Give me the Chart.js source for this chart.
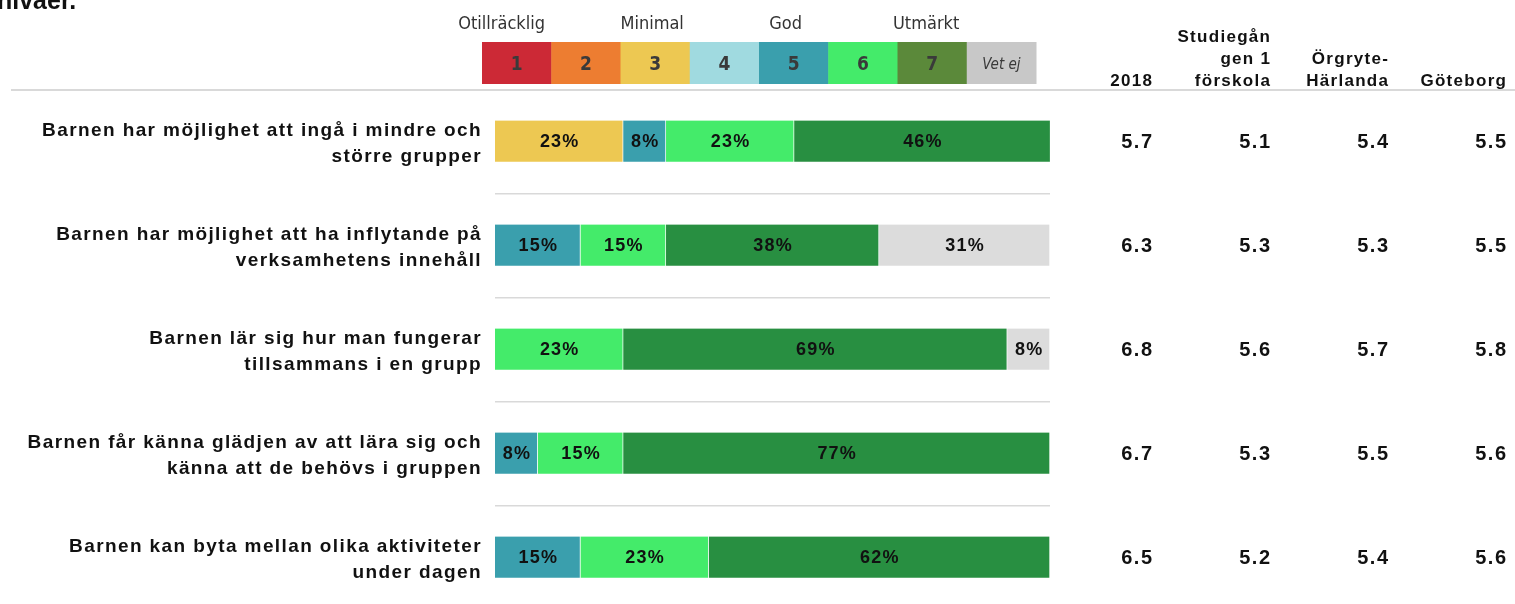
<!DOCTYPE html>
<html>
<head>
<meta charset="utf-8">
<script src="https://cdn.jsdelivr.net/npm/chart.js@4.4.1/dist/chart.umd.min.js"></script>
<style>
  body { margin: 0; background: #fff; }
  #wrap { width: 1515px; height: 604px; position: relative; }
</style>
</head>
<body>
<div id="wrap"><canvas id="chart"></canvas></div>
<script>
// frågor (två rader per etikett)
const categories = [
    ['Barnen har möjlighet att ingå i mindre och', 'större grupper'],
    ['Barnen har möjlighet att ha inflytande på', 'verksamhetens innehåll'],
    ['Barnen lär sig hur man fungerar', 'tillsammans i en grupp'],
    ['Barnen får känna glädjen av att lära sig och', 'känna att de behövs i gruppen'],
    ['Barnen kan byta mellan olika aktiviteter', 'under dagen']
];

const scaleLabels = ['1', '2', '3', '4', '5', '6', '7', 'Vet ej'];
const scaleWords = ['Otillräcklig', '', 'Minimal', '', 'God', '', 'Utmärkt', ''];

// andel svar i procent per betyg
const grade1 = [0, 0, 0, 0, 0];
const grade2 = [0, 0, 0, 0, 0];
const grade3 = [23.1, 0, 0, 0, 0];
const grade4 = [0, 0, 0, 0, 0];
const grade5 = [7.7, 15.4, 0, 7.7, 15.4];
const grade6 = [23.1, 15.4, 23.1, 15.4, 23.1];
const grade7 = [46.2, 38.4, 69.2, 76.9, 61.5];
const vetEj = [0, 30.8, 7.7, 0, 0];

// medelvärden till höger
const colHeaders = [['2018'], ['Studiegån', 'gen 1', 'förskola'], ['Örgryte-', 'Härlanda'], ['Göteborg']];
const val2018 = [5.7, 6.3, 6.8, 6.7, 6.5];
const valStudiegangen = [5.1, 5.3, 5.6, 5.3, 5.2];
const valOrgryte = [5.4, 5.3, 5.7, 5.5, 5.4];
const valGoteborg = [5.5, 5.5, 5.8, 5.6, 5.6];

const barColors = ['#CC2936', '#ED7D31', '#EDC852', '#A0DAE0', '#3A9FAD', '#44EB6A', '#288F41', '#DCDCDC'];
const legendColors = ['#CC2936', '#ED7D31', '#EDC852', '#A0DAE0', '#3A9FAD', '#44EB6A', '#5B893A', '#C8C8C8'];

document.addEventListener('DOMContentLoaded', () => {
    const series = [grade1, grade2, grade3, grade4, grade5, grade6, grade7, vetEj];
    const valueCols = [val2018, valStudiegangen, valOrgryte, valGoteborg];
    const colRight = [1152, 1270, 1388, 1506];
    const wordShift = [-15, 0, -3, 0, -8, 0, -6, 0];

    const sideTexts = {
        id: 'sideTexts',
        afterDraw(chart) {
            const ctx = chart.ctx;
            const y = chart.scales.y;
            ctx.save();

            // avskuren rubrik överst
            ctx.fillStyle = '#111';
            ctx.font = 'bold 25px "Liberation Sans"';
            ctx.textAlign = 'left';
            ctx.textBaseline = 'alphabetic';
            ctx.fillText('nivåer.', -3, 9);

            // linje under huvudet
            ctx.strokeStyle = '#d9d9d9';
            ctx.lineWidth = 2;
            ctx.beginPath();
            ctx.moveTo(11, 90);
            ctx.lineTo(1515, 90);
            ctx.stroke();

            // skala-förklaring
            const bx = 482, bw = 69.25, by = 42, bh = 42;
            scaleLabels.forEach((lab, i) => {
                ctx.fillStyle = legendColors[i];
                ctx.fillRect(bx + i * bw, by, bw + 0.5, bh);
                ctx.fillStyle = '#3a3a3a';
                ctx.textAlign = 'center';
                ctx.textBaseline = 'middle';
                if (lab === 'Vet ej') {
                    ctx.font = 'italic 15px "DejaVu Sans Condensed"';
                } else {
                    ctx.font = 'bold 19px "DejaVu Sans Condensed"';
                }
                ctx.fillText(lab, bx + i * bw + bw / 2, by + bh / 2 + 2);
                if (scaleWords[i]) {
                    ctx.fillStyle = '#333';
                    ctx.font = '18px "DejaVu Sans Condensed"';
                    ctx.fillText(scaleWords[i], bx + i * bw + bw / 2 + wordShift[i], 24);
                }
            });

            // kolumnrubriker
            ctx.fillStyle = '#111';
            ctx.font = 'bold 17px "Liberation Sans"';
            ctx.letterSpacing = '1.3px';
            ctx.textAlign = 'right';
            ctx.textBaseline = 'alphabetic';
            colHeaders.forEach((lines, c) => {
                lines.forEach((line, k) => {
                    const base = 86 - (lines.length - 1 - k) * 22;
                    ctx.fillText(line, colRight[c] + 1.3, base);
                });
            });

            // medelvärden
            ctx.font = 'bold 20px "Liberation Sans"';
            ctx.letterSpacing = '1.5px';
            ctx.textBaseline = 'middle';
            valueCols.forEach((vals, c) => {
                vals.forEach((v, i) => {
                    ctx.fillText(v.toFixed(1), colRight[c] + 1.5, y.getPixelForValue(i) + 1);
                });
            });

            // frågetexter
            ctx.font = 'bold 19px "Liberation Sans"';
            ctx.letterSpacing = '1.4px';
            categories.forEach((lines, i) => {
                const cy = y.getPixelForValue(i);
                ctx.fillText(lines[0], 482, cy - 11);
                ctx.fillText(lines[1], 482, cy + 15);
            });

            // procent i staplarna
            ctx.font = 'bold 18px "Liberation Sans"';
            ctx.letterSpacing = '1.2px';
            ctx.textAlign = 'center';
            chart.data.datasets.forEach((ds, d) => {
                const meta = chart.getDatasetMeta(d);
                meta.data.forEach((bar, i) => {
                    const v = ds.data[i];
                    if (!v) return;
                    ctx.fillStyle = '#111';
                    ctx.fillText(Math.round(v) + '%', (bar.x + bar.base) / 2 + 0.6, bar.y + 1);
                });
            });
            ctx.restore();
        }
    };

    new Chart(document.getElementById('chart'), {
        type: 'bar',
        data: {
            labels: categories.map(c => c.join(' ')),
            datasets: series.map((data, i) => ({
                label: scaleLabels[i],
                data: data,
                backgroundColor: barColors[i],
                borderColor: 'rgba(255,255,255,0.35)',
                borderWidth: { top: 0, left: 0, right: 1, bottom: 1 },
                borderSkipped: false,
                barThickness: 42,
                clip: false
            }))
        },
        options: {
            indexAxis: 'y',
            responsive: true,
            maintainAspectRatio: false,
            animation: false,
            layout: { padding: { left: 495, right: 465, top: 141.5, bottom: 46.5 } },
            scales: {
                x: { stacked: true, min: 0, max: 100, display: false },
                y: {
                    stacked: true,
                    offset: false,
                    ticks: { display: false },
                    grid: { offset: true, color: '#d9d9d9', lineWidth: 1.5, drawTicks: false },
                    border: { display: false },
                    afterFit: s => { s.width = 0; }
                }
            },
            plugins: {
                legend: { display: false },
                tooltip: { enabled: false }
            }
        },
        plugins: [sideTexts]
    });
});
</script>
</body>
</html>
